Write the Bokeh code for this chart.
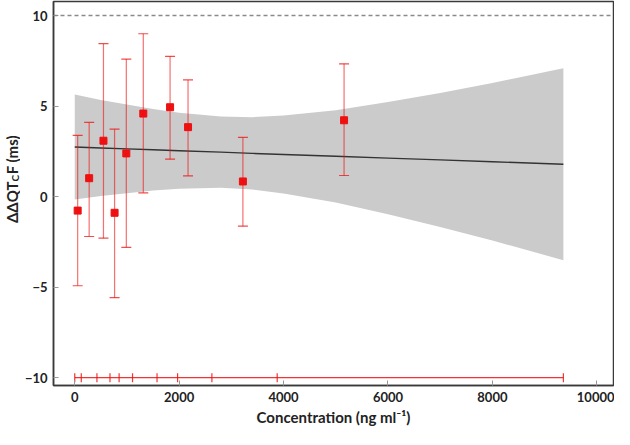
import numpy as np
from bokeh.plotting import figure
from bokeh.layouts import row
from bokeh.models import ColumnDataSource, Whisker, TeeHead, Range1d, FixedTicker, Span
from bokeh.core.properties import value
from bokeh.embed import file_html
from bokeh.resources import INLINE

# ---- data ----
conc = [56, 276, 550, 763, 988, 1313, 1826, 2170, 3221, 5159]
ddqtcf = [-0.77, 1.02, 3.09, -0.89, 2.39, 4.59, 4.94, 3.84, 0.84, 4.22]
ci_upper = [3.38, 4.10, 8.45, 3.73, 7.60, 9.00, 7.75, 6.45, 3.27, 7.34]
ci_lower = [-4.92, -2.20, -2.29, -5.58, -2.80, 0.21, 2.07, 1.15, -1.63, 1.17]

bin_edges = [0, 125, 425, 675, 850, 1107, 1576, 1970, 2627, 3878, 9360]
rug_level = -10

fit_conc = [0, 500, 1000, 1500, 2000, 2800, 3400, 4000, 5000, 6000, 7000, 8000, 9360]
fit_mean = [2.74, 2.69, 2.64, 2.59, 2.54, 2.46, 2.39, 2.33, 2.23, 2.13, 2.03, 1.93, 1.79]
fit_upper = [5.64, 5.34, 5.09, 4.84, 4.64, 4.43, 4.39, 4.48, 4.78, 5.23, 5.73, 6.28, 7.09]
fit_lower = [-0.16, 0.04, 0.19, 0.34, 0.44, 0.49, 0.39, 0.18, -0.32, -0.97, -1.67, -2.42, -3.51]

threshold = 10
x_ticks = [0, 2000, 4000, 6000, 8000, 10000]
y_ticks = [-10, -5, 0, 5, 10]
y_title_parts = ["\u0394\u0394QT", "C", "F (ms)"]
x_title = "Concentration (ng ml\u207b\u00b9)"

FONT = "Lato"
AX = "#3a3a3a"
RED = "#ee1111"
TXT = "#222222"
H = 429

p = figure(width=594, height=H, output_backend="svg", toolbar_location=None,
           x_range=Range1d(-407, 10320), y_range=Range1d(-10.43, 10.78),
           min_border_left=33, min_border_right=1, min_border_top=1, min_border_bottom=44)
p.grid.visible = False
p.outline_line_color = AX
p.outline_line_width = 1.5

# confidence band and fit line
p.varea(x=fit_conc, y1=fit_lower, y2=fit_upper, fill_color="#cbcbcb", fill_alpha=1.0)
p.line(x=fit_conc, y=fit_mean, line_color="#333333", line_width=1.4)

# threshold
p.add_layout(Span(location=threshold, dimension="width", line_color="#8a8a8a",
                  line_dash="4 3", line_width=1.5))

# binned means with CI
src = ColumnDataSource(dict(x=conc, y=ddqtcf, up=ci_upper, lo=ci_lower))
p.add_layout(Whisker(base="x", upper="up", lower="lo", source=src, level="annotation",
                     line_color=RED, line_alpha=0.6, line_width=1.2,
                     upper_head=TeeHead(size=10, line_color=RED, line_alpha=0.75, line_width=1.2),
                     lower_head=TeeHead(size=10, line_color=RED, line_alpha=0.75, line_width=1.2)))
p.scatter(x="x", y="y", source=src, marker="square", size=7, fill_color=RED,
          line_color=RED)

# bin rug
rug_y = [rug_level] * len(bin_edges)
p.line(x=[bin_edges[0], bin_edges[-1]], y=[rug_level, rug_level], line_color=RED,
       line_width=1.2, line_alpha=0.85)
p.scatter(x=bin_edges, y=rug_y, marker="dash", angle=np.pi / 2, size=9,
          line_color=RED, line_width=1.2, line_alpha=0.85)

# axes
for ax in (p.xaxis[0], p.yaxis[0]):
    ax.axis_line_color = AX
    ax.axis_line_width = 1.5
    ax.major_tick_in = 5
    ax.major_tick_out = 0
    ax.major_tick_line_color = "#999999"
    ax.minor_tick_line_color = None
    ax.major_label_text_font = FONT
    ax.major_label_text_font_style = "bold"
    ax.major_label_text_font_size = "13px"
    ax.major_label_text_color = TXT

p.xaxis.ticker = FixedTicker(ticks=x_ticks)
p.yaxis.ticker = FixedTicker(ticks=y_ticks)
p.yaxis.major_label_overrides = {-10: "\u221210", -5: "\u22125"}
p.xaxis.major_label_standoff = 6
p.yaxis.major_label_standoff = 6
p.xaxis.axis_label = x_title
p.xaxis.axis_label_text_font = FONT
p.xaxis.axis_label_text_font_style = "bold"
p.xaxis.axis_label_text_font_size = "15px"
p.xaxis.axis_label_text_color = TXT
p.xaxis.axis_label_standoff = 3

# narrow side panel holding the y-axis title (with subscript)
t = figure(width=20, height=H, output_backend="svg", toolbar_location=None,
           x_range=Range1d(0, 20), y_range=Range1d(0, H), min_border=0,
           x_axis_type=None, y_axis_type=None)
t.outline_line_color = None
t.grid.visible = False
common = dict(angle=np.pi / 2, text_font=value(FONT), text_font_style="bold",
              text_color=TXT, text_baseline="middle")
t.text(x=[11], y=[228], text=[y_title_parts[0]], text_align="right",
       text_font_size="15px", **common)
t.text(x=[14], y=[228], text=[y_title_parts[1]], text_align="left",
       text_font_size="10px", **common)
t.text(x=[11], y=[236], text=[y_title_parts[2]], text_align="left",
       text_font_size="15px", **common)

layout = row(t, p)
open("out.html", "w").write(file_html(layout, INLINE))
